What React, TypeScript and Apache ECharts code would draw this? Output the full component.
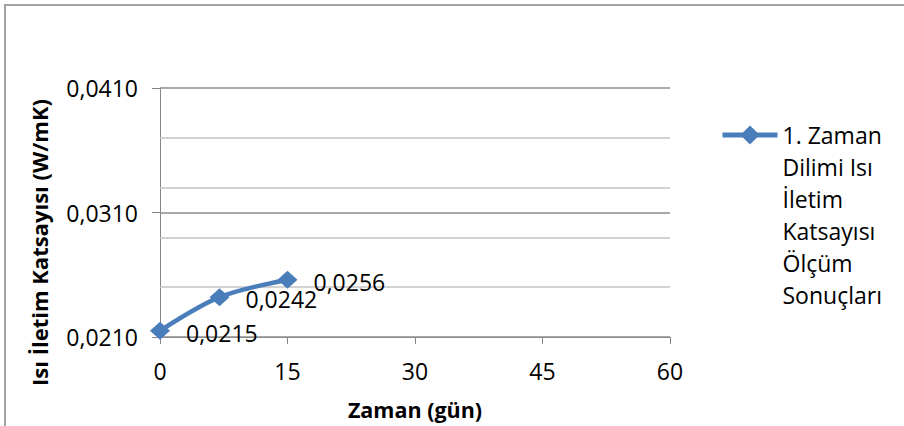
import React, { useEffect, useRef } from "react";
import * as echarts from "echarts";

const days = [0, 7, 15];
const conductivity = [0.0215, 0.0242, 0.0256];
const yMajorTicks = [0.021, 0.031, 0.041];
const yMinorGrid = [0.025, 0.029, 0.033, 0.037];
const xTickInterval = 15;
const xMin = 0;
const xMax = 60;
const seriesName = "1. Zaman\nDilimi Isı\nİletim\nKatsayısı\nÖlçüm\nSonuçları";
const yTitle = "Isı İletim Katsayısı (W/mK)";
const xTitle = "Zaman (gün)";

const fmt = (v: number) => v.toFixed(4).replace(".", ",");
const FONT = "Open Sans";

export default function App() {
  const ref = useRef<HTMLDivElement>(null);
  useEffect(() => {
    if (!ref.current) return;
    const chart = echarts.init(ref.current, undefined, { renderer: "svg" });
    const data = days.map((d, i) => [d, conductivity[i]]);
    chart.setOption({
      animation: false,
      backgroundColor: "#ffffff",
      textStyle: { fontFamily: FONT },
      grid: { left: 160, right: 234, top: 88, bottom: 89, outerBoundsMode: "none", containLabel: false },
      graphic: [
        {
          type: "rect",
          shape: { x: 5, y: 5, width: 1400, height: 900 },
          style: { fill: "none", stroke: "#a3a3a3", lineWidth: 2 },
          silent: true,
          z: 0,
        },
      ],
      legend: {
        left: 720,
        top: -41,
        padding: 0,
        itemWidth: 55,
        itemHeight: 24,
        data: [seriesName],
        formatter: (name: string) => "\n\n\n\n\n" + name,
        lineStyle: { width: 5 },
        textStyle: {
          fontFamily: FONT,
          fontSize: 23,
          color: "#000",
          lineHeight: 32,
        },
      },
      xAxis: {
        type: "value",
        min: xMin,
        max: xMax,
        interval: xTickInterval,
        name: xTitle,
        nameLocation: "middle",
        nameGap: 61,
        nameTextStyle: { fontFamily: FONT, fontSize: 21.5, fontWeight: "bold", color: "#000" },
        axisLine: { show: true, lineStyle: { color: "#868686", width: 1 } },
        axisTick: { show: true, length: 7, lineStyle: { color: "#868686" } },
        axisLabel: { fontFamily: FONT, fontSize: 23, color: "#000", margin: 22 },
        splitLine: { show: false },
      },
      yAxis: {
        type: "value",
        min: yMajorTicks[0],
        max: yMajorTicks[yMajorTicks.length - 1],
        name: yTitle,
        nameLocation: "middle",
        nameRotate: 90,
        nameGap: 110,
        nameTextStyle: {
          fontFamily: FONT,
          fontSize: 22,
          fontWeight: "bold",
          color: "#000",
          padding: [0, 60, 0, 0],
        },
        axisLine: { show: true, lineStyle: { color: "#868686", width: 1 } },
        axisTick: { show: true, length: 8, customValues: yMajorTicks, lineStyle: { color: "#868686" } },
        axisLabel: {
          customValues: yMajorTicks,
          formatter: (v: number) => fmt(v),
          fontFamily: FONT,
          fontSize: 23,
          color: "#000",
          margin: 22,
        },
        splitLine: { show: false },
      },
      series: [
        {
          name: seriesName,
          type: "line",
          data,
          smooth: 0.3,
          symbol: "diamond",
          symbolSize: [20, 18],
          lineStyle: { color: "#4a7ebb", width: 4.5 },
          itemStyle: { color: "#4a7ebb" },
          label: {
            show: true,
            position: "right",
            distance: 16,
            offset: [0, 2],
            formatter: (p: any) => fmt(p.value[1]),
            fontFamily: FONT,
            fontSize: 23,
            color: "#000",
          },
          z: 5,
          markLine: {
            silent: true,
            symbol: "none",
            precision: 4,
            label: { show: false },
            z: 1,
            data: [
              ...yMajorTicks.map((v) => ({ yAxis: v, lineStyle: { color: "#8c8c8c", width: 1.5, type: "solid" } })),
              ...yMinorGrid.map((v) => ({ yAxis: v, lineStyle: { color: "#c4c4c4", width: 1.5, type: "solid" } })),
            ],
          },
        },
      ],
    });
    return () => chart.dispose();
  }, []);
  return (
    <div
      ref={ref}
      style={{ position: "absolute", left: 0, top: 0, width: 904, height: 426 }}
    />
  );
}
